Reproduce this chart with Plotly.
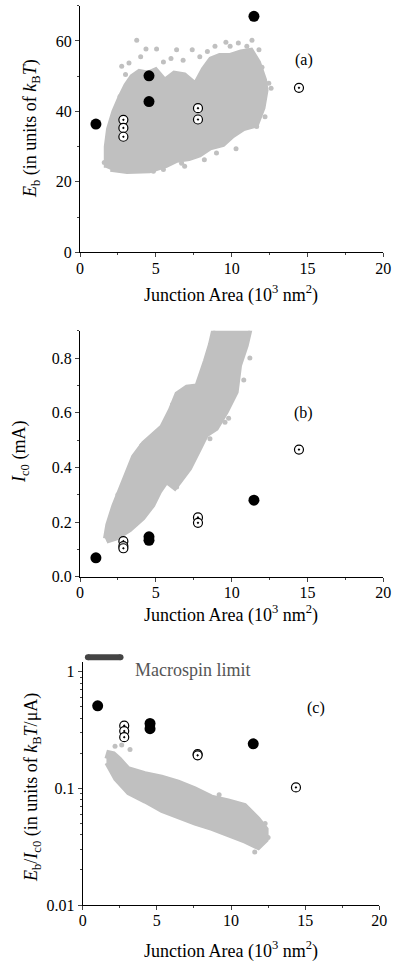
import plotly.graph_objects as go
import math

# ---------------- data ----------------
# Panel (a): Eb (kBT) vs junction area (10^3 nm^2)
a_filled_x = [1.05, 4.55, 4.55, 11.47]
a_filled_y = [36.4, 50.1, 42.8, 67.0]
a_open_x = [2.86, 2.86, 2.86, 7.78, 7.78, 14.44]
a_open_y = [37.6, 35.3, 32.8, 40.9, 37.7, 46.7]
# simulated cloud envelope (a)
cloud_a_x = [1.7, 1.7, 1.85, 2.2, 2.6, 3.0, 3.4, 3.9, 4.5, 5.0, 5.6, 6.2, 6.9, 7.6, 8.1, 8.6, 9.2, 9.9,
             10.6, 11.3, 11.8, 12.2, 12.3, 12.1, 11.65, 10.8, 10.1, 9.45, 8.6, 7.9, 7.2, 6.4, 5.7, 4.6, 3.1, 2.0]
cloud_a_y = [24, 30, 35, 40, 44, 47.5, 50, 51.5, 51, 52, 49, 51, 50.5, 48, 52, 55, 56, 56,
             57, 57.5, 54, 49, 46, 41, 36, 35, 33, 30.5, 29.5, 27.5, 26.5, 26, 24.5, 23, 22.8, 23.4]
cloud_a_dots_x = [3.74, 4.35, 5.05, 2.75, 3.23, 6.37, 7.4, 8.9, 9.62, 10.44, 11.34, 4.0, 5.5, 6.8, 8.4,
                  9.9, 11.0, 11.8, 12.0, 12.45, 12.6, 12.2, 11.65, 10.29, 9.0, 8.2, 6.9, 6.7, 5.5, 4.84,
                  2.2, 2.64, 3.0, 1.6, 6.0, 7.9]
cloud_a_dots_y = [60.2, 57.7, 57.7, 52.8, 53.7, 57.5, 57.5, 58.5, 59.6, 59.4, 60.2, 55.5, 54.0, 54.5, 57.0,
                  58.5, 58.5, 57.5, 52.5, 48, 46.6, 38.5, 35.7, 29.4, 28.2, 26.3, 24.4, 25.3, 23.5, 23.0,
                  38.6, 44.2, 50.5, 25.5, 55.0, 55.5]

# Panel (b): Ic0 (mA) vs junction area
b_filled_x = [1.05, 4.55, 4.55, 11.47]
b_filled_y = [0.069, 0.146, 0.133, 0.280]
b_open_x = [2.86, 2.86, 2.86, 7.78, 7.78, 14.44]
b_open_y = [0.130, 0.112, 0.104, 0.217, 0.197, 0.465]
cloud_b_x = [1.65, 1.8, 2.2, 2.85, 3.5, 4.17, 4.83, 5.38, 5.93, 6.37, 7.03, 7.69, 8.24, 8.57, 8.9,
             11.35, 10.99, 10.55, 10.33, 9.67, 9.01, 8.35, 7.91, 7.25, 6.59, 6.26, 5.71, 5.27, 4.83,
             4.17, 3.3, 2.42, 1.76]
cloud_b_y = [0.14, 0.19, 0.26, 0.355, 0.44, 0.49, 0.525, 0.55, 0.61, 0.67, 0.695, 0.70, 0.79, 0.85, 0.93,
             0.93, 0.845, 0.772, 0.675, 0.602, 0.541, 0.517, 0.468, 0.395, 0.346, 0.322, 0.346, 0.31, 0.261,
             0.213, 0.17, 0.14, 0.128]
cloud_b_dots_x = [9.56, 8.57, 6.37, 4.07, 9.8, 10.8, 11.2, 8.0, 6.1, 2.5, 3.6]
cloud_b_dots_y = [0.565, 0.505, 0.328, 0.48, 0.58, 0.72, 0.80, 0.735, 0.63, 0.30, 0.42]

# Panel (c): Eb/Ic0 (kBT/uA) vs junction area
c_filled_x = [1.01, 4.54, 4.54, 11.5]
c_filled_y = [0.51, 0.36, 0.325, 0.241]
c_open_x = [2.8, 2.8, 2.8, 7.75, 7.75, 14.38]
c_open_y = [0.345, 0.31, 0.275, 0.197, 0.192, 0.102]
cloud_c_x = [1.6, 1.73, 2.1, 2.5, 3.07, 4.2, 5.33, 6.45, 7.57, 8.7, 9.82, 10.94, 11.85, 12.4,
             12.4, 11.85, 10.94, 9.82, 8.7, 7.57, 6.45, 5.33, 4.2, 3.07, 2.2, 1.84, 1.6]
cloud_c_y = [0.18, 0.205, 0.2, 0.18, 0.149, 0.135, 0.126, 0.114, 0.1, 0.085, 0.079, 0.072, 0.055, 0.045,
             0.036, 0.0307, 0.0349, 0.0398, 0.045, 0.050, 0.057, 0.064, 0.077, 0.091, 0.12, 0.149, 0.165]
cloud_c_dots_x = [2.63, 3.19, 2.18, 11.6, 12.5, 9.2, 7.2, 12.3]
cloud_c_dots_y = [0.235, 0.216, 0.23, 0.0285, 0.038, 0.088, 0.098, 0.05]

macrospin_x = [0.35, 2.55]
macrospin_y = [1.33, 1.33]

x_ticks = [0, 5, 10, 15, 20]

# ---------------- styling ----------------
GRAY = "#c0c0c0"
FONT = "Liberation Serif"
W, H = 393, 962

fig = go.Figure()

panels = [
    ("x", "y", cloud_a_x, cloud_a_y, cloud_a_dots_x, cloud_a_dots_y, a_filled_x, a_filled_y, a_open_x, a_open_y),
    ("x2", "y2", cloud_b_x, cloud_b_y, cloud_b_dots_x, cloud_b_dots_y, b_filled_x, b_filled_y, b_open_x, b_open_y),
    ("x3", "y3", cloud_c_x, cloud_c_y, cloud_c_dots_x, cloud_c_dots_y, c_filled_x, c_filled_y, c_open_x, c_open_y),
]
for xa, ya, cx, cy, dx, dy, fx, fy, ox, oy in panels:
    fig.add_trace(go.Scatter(x=cx, y=cy, xaxis=xa, yaxis=ya, mode="lines", fill="toself",
                             fillcolor=GRAY, line=dict(color=GRAY, width=4), hoverinfo="skip",
                             showlegend=False))
    fig.add_trace(go.Scatter(x=dx, y=dy, xaxis=xa, yaxis=ya, mode="markers",
                             marker=dict(color=GRAY, size=5), showlegend=False))
    fig.add_trace(go.Scatter(x=fx, y=fy, xaxis=xa, yaxis=ya, mode="markers",
                             marker=dict(color="black", size=11, line=dict(width=0)), showlegend=False))
    fig.add_trace(go.Scatter(x=ox, y=oy, xaxis=xa, yaxis=ya, mode="markers",
                             marker=dict(symbol="circle-dot", color="white", size=9,
                                         line=dict(color="black", width=1.2)), showlegend=False))

# macrospin bar sits just above the top of panel (c): drawn on an invisible axis
# with panel (c)'s log scale, extended a little higher.
fig.add_trace(go.Scatter(x=macrospin_x, y=macrospin_y, xaxis="x3", yaxis="y4", mode="lines+markers",
                         line=dict(color="#444444", width=6), marker=dict(color="#444444", size=6),
                         showlegend=False, hoverinfo="skip"))


def px(x):
    return x / W


def py(y):
    return 1 - y / H


tickfont = dict(family=FONT, size=16, color="black")
common_x = dict(range=[0, 20], tickvals=x_ticks, ticks="outside", ticklen=4, tickwidth=1,
                showline=True, linecolor="black", linewidth=1, showgrid=False, zeroline=False,
                tickfont=tickfont, minor=dict(dtick=2.5, ticks="outside", ticklen=2, tickwidth=1),
                automargin=False, ticklabelstandoff=-3)
common_y = dict(ticks="outside", ticklen=4, tickwidth=1, showline=True, linecolor="black", linewidth=1,
                showgrid=False, zeroline=False, tickfont=tickfont, automargin=False)

c_bot, c_top, c_ext = 905.0, 661.7, 645.0
c_lo, c_hi = -2.0, math.log10(1.22)
c_hi_ext = c_hi + (c_top - c_ext) * (c_hi - c_lo) / (c_bot - c_top)

fig.update_layout(
    width=W, height=H, margin=dict(l=0, r=0, t=0, b=0),
    paper_bgcolor="white", plot_bgcolor="rgba(0,0,0,0)",
    font=dict(family=FONT, size=16, color="black"),
    xaxis=dict(common_x, domain=[px(80), px(383.3)], anchor="y"),
    yaxis=dict(common_y, domain=[py(252.3), py(5.7)], range=[0, 70], tick0=0, dtick=20,
               minor=dict(dtick=10, ticks="outside", ticklen=2, tickwidth=1), anchor="x"),
    xaxis2=dict(common_x, domain=[px(80), px(383.3)], anchor="y2"),
    yaxis2=dict(common_y, domain=[py(576.7), py(330.7)], range=[0, 0.9], tick0=0, dtick=0.2,
                tickformat=".1f", minor=dict(dtick=0.1, ticks="outside", ticklen=2, tickwidth=1), anchor="x2"),
    xaxis3=dict(common_x, domain=[px(82.7), px(379.3)], anchor="y3"),
    yaxis3=dict(common_y, type="log", domain=[py(c_bot), py(c_top)], range=[c_lo, c_hi],
                tickvals=[0.01, 0.1, 1], ticktext=["0.01", "0.1", "1"],
                minor=dict(dtick="D1", ticks="outside", ticklen=2, tickwidth=1), anchor="x3"),
    yaxis4=dict(type="log", domain=[py(c_bot), py(c_ext)], range=[c_lo, c_hi_ext], visible=False,
                anchor="x3", showgrid=False, zeroline=False, showline=False, ticks=""),
)

xtitle = "Junction Area (10<sup>3</sup> nm<sup>2</sup>)"
ann = [
    dict(text="<i>E</i><sub>b</sub> (in units of <i>k</i><sub>B</sub><i>T</i>)", x=px(32), y=py(129), textangle=-90),
    dict(text=xtitle, x=px(231), y=py(294), textangle=0),
    dict(text="<i>I</i><sub>c0</sub> (mA)", x=px(20), y=py(452), textangle=-90),
    dict(text=xtitle, x=px(231), y=py(614), textangle=0),
    dict(text="<i>E</i><sub>b</sub>/<i>I</i><sub>c0</sub> (in units of <i>k</i><sub>B</sub><i>T</i>/μA)",
         x=px(32), y=py(788), textangle=-90),
    dict(text=xtitle, x=px(231), y=py(950), textangle=0),
]
for a in ann:
    fig.add_annotation(xref="paper", yref="paper", showarrow=False, xanchor="center", yanchor="middle",
                       font=dict(family=FONT, size=18, color="black"), **a)

fig.add_annotation(text="(a)", x=14.77, y=54.7, xref="x", yref="y", showarrow=False,
                   font=dict(family=FONT, size=16))
fig.add_annotation(text="(b)", x=14.77, y=0.598, xref="x2", yref="y2", showarrow=False,
                   font=dict(family=FONT, size=16))
fig.add_annotation(text="(c)", x=15.73, y=math.log10(0.486), xref="x3", yref="y3", showarrow=False,
                   font=dict(family=FONT, size=16))
fig.add_annotation(text="Macrospin limit", x=3.4, y=math.log10(1.03), xref="x3", yref="y3",
                   showarrow=False, xanchor="left", font=dict(family=FONT, size=18, color="#555555"))

fig.write_html("out.html", config={"displayModeBar": False},
               post_script="document.body.style.margin='0';document.body.style.overflow='hidden';")
